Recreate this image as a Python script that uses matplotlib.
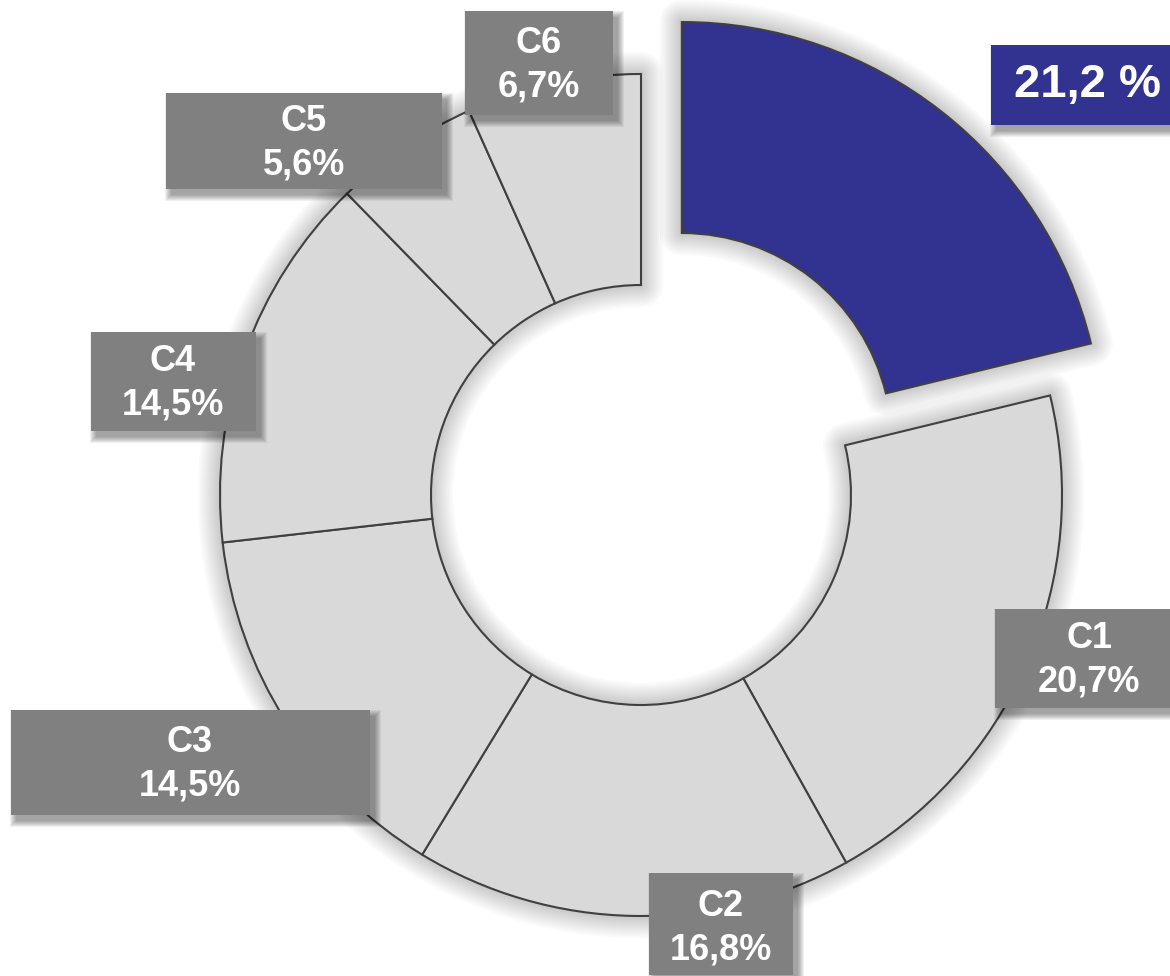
import matplotlib
matplotlib.use('Agg')
import matplotlib.pyplot as plt
import matplotlib.patheffects as pe
from matplotlib.patches import Rectangle

plt.rcParams['font.family'] = ['Liberation Sans', 'DejaVu Sans']

# data (clockwise from 12 o'clock)
shares = [21.2, 20.7, 16.8, 14.5, 14.5, 5.6, 6.7]
names = ['', 'C1', 'C2', 'C3', 'C4', 'C5', 'C6']
share_labels = ['21,2 %', '20,7%', '16,8%', '14,5%', '14,5%', '5,6%', '6,7%']

# colours
blue = '#323291'
light = '#d9d9d9'
boxgray = '#808080'
edge = '#404040'

W, H = 1170, 976
cx, cy, R = 641, 495, 421          # pie centre / radius in pixels
ring = 1 - 210 / R

fig = plt.figure(figsize=(W / 100, H / 100), dpi=100)
ax = fig.add_axes([0, 0, 1, 1])

colors = [blue] + [light] * 6
explode = [0.157] + [0] * 6

# soft halo behind the ring: highlighted slice + the rest as one piece
halo, _ = ax.pie([shares[0], sum(shares[1:])], startangle=90, counterclock=False,
                 explode=[0.157, 0], colors=['none'] * 2,
                 wedgeprops=dict(width=ring, linewidth=0))
glow = [pe.Stroke(linewidth=w, foreground='black', alpha=0.02, joinstyle='round')
        for w in range(32, 0, -3)]
for w in halo:
    w.set_path_effects(glow)
    w.set_zorder(1)

wedges, _ = ax.pie(shares, startangle=90, counterclock=False, explode=explode,
                   colors=colors, wedgeprops=dict(width=ring, edgecolor=edge, linewidth=1.5))
for w in wedges:
    w.set_zorder(2)

ax.set_xlim(-cx / R, (W - cx) / R)
ax.set_ylim((cy - H) / R, cy / R)
ax.set_aspect('auto')
ax.axis('off')

# label boxes in pixel coordinates
lab = fig.add_axes([0, 0, 1, 1])
lab.set_xlim(0, W)
lab.set_ylim(H, 0)
lab.axis('off')

boxes = [(991, 45, 1182, 125), (995, 609, 1183, 708), (649, 873, 793, 975),
         (11, 710, 370, 815), (91, 332, 256, 431), (166, 93, 442, 189),
         (465, 11, 613, 115)]
text_pos = [(1088, 85), (1089, 660), (721, 928), (190, 764), (173, 383),
            (304, 143), (539, 65)]

for i, (x0, y0, x1, y1) in enumerate(boxes):
    bw, bh = x1 - x0, y1 - y0
    for k in range(7):
        lab.add_patch(Rectangle((x0 + 5 - k, y0 + 6 - k), bw + 2 * k, bh + 2 * k,
                                color='black', alpha=0.06, lw=0, zorder=3))
    lab.add_patch(Rectangle((x0, y0), bw, bh, color=blue if i == 0 else boxgray,
                            lw=0, zorder=4))
    tx, ty = text_pos[i]
    if i == 0:
        lab.text(tx, ty, share_labels[i], ha='center', va='center', color='white',
                 fontsize=34, fontweight='bold', zorder=5)
    else:
        lab.text(tx, ty, names[i] + '\n' + share_labels[i], ha='center', va='center',
                 color='white', fontsize=26, fontweight='bold', linespacing=1.3, zorder=5)

plt.savefig('out.png', dpi=100)
